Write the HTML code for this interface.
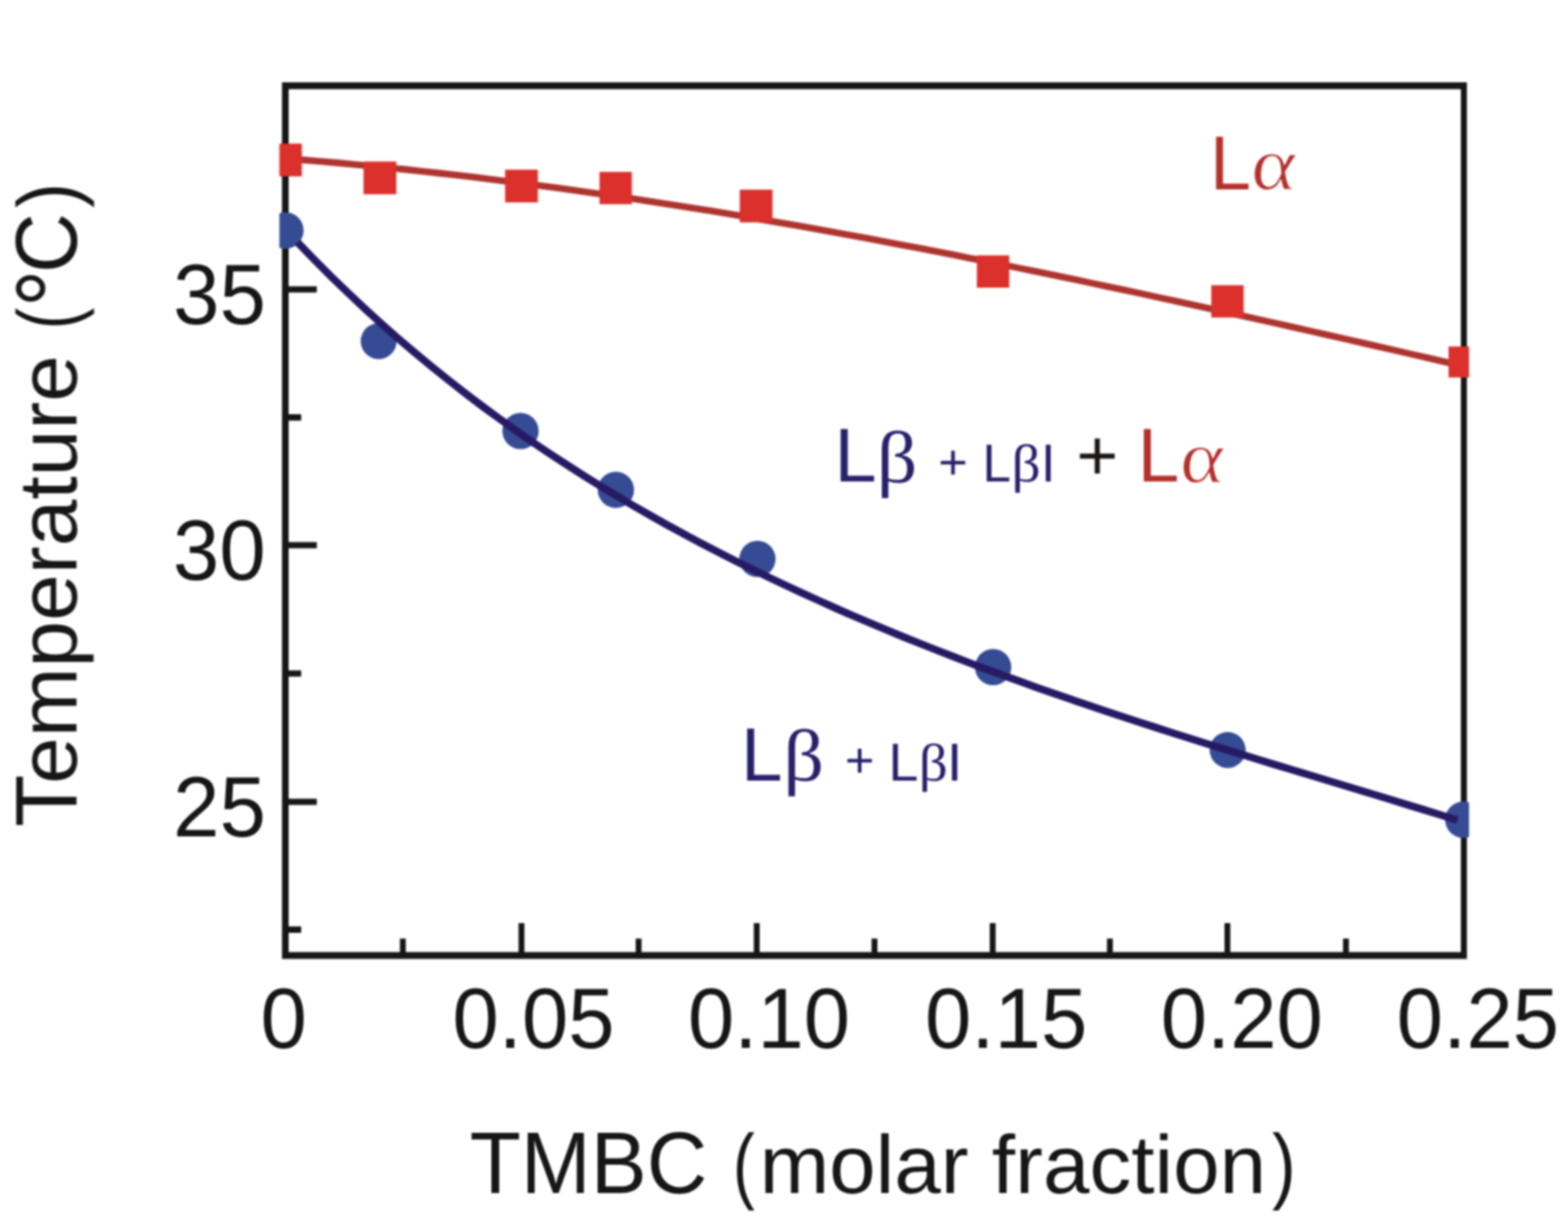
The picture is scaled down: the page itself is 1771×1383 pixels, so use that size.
<!DOCTYPE html>
<html lang="en">
<head>
<meta charset="utf-8">
<title>Phase diagram: transition temperature vs TMBC molar fraction</title>
<style>
html,body{margin:0;padding:0;background:#fff;}
body{width:1771px;height:1383px;overflow:hidden;}
svg{display:block;}
text{white-space:pre;}
</style>
</head>
<body>
<svg width="1771" height="1383" viewBox="0 0 1771 1383">
<defs>
<clipPath id="plotclip"><rect x="315.6" y="0" width="1343.6" height="1383"/></clipPath>
<filter id="soft" filterUnits="userSpaceOnUse" x="0" y="0" width="1771" height="1383" color-interpolation-filters="sRGB"><feGaussianBlur stdDeviation="0.90"/></filter>
</defs>
<rect x="0" y="0" width="1771" height="1383" fill="#ffffff"/>
<g id="figure" filter="url(#soft)">
<g id="axes" fill="none" stroke="#161616">
<path fill="#161616" stroke="none" fill-rule="evenodd" d="M318.50 92.90H1656.80V1083.60H318.50Z M326.00 100.70H1650.00V1075.70H326.00Z"/>
<path stroke-width="7.20" d="M325.00 327.00H357.80 M325.00 616.00H357.80 M325.00 906.00H357.80 M325.00 471.60H340.20 M325.00 761.00H340.20 M325.00 1050.30H340.20"/>
<path stroke-width="6.60" d="M589.00 1076.70V1043.00 M854.70 1076.70V1043.00 M1121.20 1076.70V1043.00 M1386.30 1076.70V1043.00 M455.00 1076.70V1060.40 M721.30 1076.70V1060.40 M987.70 1076.70V1060.40 M1253.60 1076.70V1060.40 M1520.20 1076.70V1060.40"/>
</g>
<g id="series-red" clip-path="url(#plotclip)">
<path d="M322.0 179.0 L341.3 180.6 L360.6 182.2 L379.9 183.9 L399.2 185.7 L418.5 187.5 L437.8 189.4 L457.1 191.4 L476.4 193.5 L495.7 195.6 L515.0 197.8 L534.3 200.1 L553.7 202.5 L573.0 204.9 L592.3 207.4 L611.6 209.9 L630.9 212.5 L650.2 215.2 L669.5 217.9 L688.8 220.7 L708.1 223.5 L727.4 226.4 L746.7 229.4 L766.0 232.4 L785.3 235.5 L804.6 238.6 L823.9 241.8 L843.2 245.1 L862.5 248.4 L881.8 251.7 L901.1 255.1 L920.4 258.5 L939.7 262.0 L959.0 265.5 L978.3 269.1 L997.7 272.7 L1017.0 276.4 L1036.3 280.1 L1055.6 283.8 L1074.9 287.6 L1094.2 291.4 L1113.5 295.2 L1132.8 299.1 L1152.1 303.1 L1171.4 307.0 L1190.7 311.0 L1210.0 315.0 L1229.3 319.1 L1248.6 323.2 L1267.9 327.3 L1287.2 331.4 L1306.5 335.6 L1325.8 339.8 L1345.1 344.0 L1364.4 348.2 L1383.7 352.5 L1403.0 356.8 L1422.3 361.1 L1441.7 365.4 L1461.0 369.8 L1480.3 374.1 L1499.6 378.5 L1518.9 382.9 L1538.2 387.3 L1557.5 391.7 L1576.8 396.1 L1596.1 400.6 L1615.4 405.0 L1634.7 409.5 L1654.0 413.9" fill="none" stroke="#ae342f" stroke-width="7.60" stroke-linejoin="round"/>
<g fill="#dc302c">
<rect x="303.90" y="162.30" width="37.00" height="37.00"/>
<rect x="410.60" y="182.50" width="37.00" height="37.00"/>
<rect x="570.50" y="191.70" width="37.00" height="37.00"/>
<rect x="677.15" y="194.25" width="36.50" height="36.50"/>
<rect x="835.50" y="214.30" width="37.00" height="37.00"/>
<rect x="1103.35" y="288.55" width="36.50" height="36.50"/>
<rect x="1368.15" y="322.25" width="36.50" height="36.50"/>
<rect x="1636.10" y="391.50" width="35.00" height="35.00"/>
</g>
</g>
<g id="series-blue" clip-path="url(#plotclip)">
<g fill="#354b94">
<circle cx="322.30" cy="260.40" r="20.60"/>
<circle cx="427.70" cy="385.40" r="20.30"/>
<circle cx="587.90" cy="487.00" r="20.50"/>
<circle cx="695.60" cy="553.40" r="20.50"/>
<circle cx="855.50" cy="631.50" r="20.50"/>
<circle cx="1121.70" cy="753.80" r="20.50"/>
<circle cx="1386.60" cy="847.40" r="20.30"/>
<circle cx="1652.80" cy="926.20" r="20.60"/>
</g>
<path d="M336.0 273.8 L355.0 293.4 L374.0 312.4 L393.0 330.8 L411.9 348.6 L430.9 365.9 L449.9 382.6 L468.9 398.8 L487.9 414.5 L506.9 429.8 L525.9 444.6 L544.8 459.0 L563.8 472.9 L582.8 486.5 L601.8 499.7 L620.8 512.5 L639.8 524.9 L658.8 537.1 L677.7 548.9 L696.7 560.4 L715.7 571.6 L734.7 582.5 L753.7 593.2 L772.7 603.6 L791.7 613.7 L810.6 623.6 L829.6 633.3 L848.6 642.7 L867.6 652.0 L886.6 661.0 L905.6 669.9 L924.6 678.5 L943.5 687.0 L962.5 695.3 L981.5 703.4 L1000.5 711.4 L1019.5 719.2 L1038.5 726.9 L1057.4 734.4 L1076.4 741.8 L1095.4 749.1 L1114.4 756.2 L1133.4 763.2 L1152.4 770.1 L1171.4 776.9 L1190.3 783.5 L1209.3 790.1 L1228.3 796.6 L1247.3 803.0 L1266.3 809.3 L1285.3 815.5 L1304.3 821.6 L1323.2 827.7 L1342.2 833.7 L1361.2 839.7 L1380.2 845.6 L1399.2 851.4 L1418.2 857.3 L1437.2 863.1 L1456.1 868.8 L1475.1 874.5 L1494.1 880.3 L1513.1 886.0 L1532.1 891.7 L1551.1 897.5 L1570.1 903.3 L1589.0 909.1 L1608.0 914.9 L1627.0 920.8 L1646.0 926.8" fill="none" stroke="#271a64" stroke-width="8.50" stroke-linejoin="round"/>
</g>
<g id="labels" text-rendering="geometricPrecision">
<text class="ytick"><tspan x="195.60" y="366.30" font-family="'Liberation Sans', sans-serif" font-size="96.60" fill="#161616" textLength="104.77" lengthAdjust="spacingAndGlyphs">35</tspan></text>
<text class="ytick"><tspan x="195.32" y="654.80" font-family="'Liberation Sans', sans-serif" font-size="96.60" fill="#161616" textLength="104.77" lengthAdjust="spacingAndGlyphs">30</tspan></text>
<text class="ytick"><tspan x="195.60" y="945.20" font-family="'Liberation Sans', sans-serif" font-size="96.60" fill="#161616" textLength="104.77" lengthAdjust="spacingAndGlyphs">25</tspan></text>
<text class="xtick"><tspan x="294.22" y="1184.00" font-family="'Liberation Sans', sans-serif" font-size="96.60" fill="#161616" textLength="52.38" lengthAdjust="spacingAndGlyphs">0</tspan></text>
<text class="xtick"><tspan x="510.92" y="1184.00" font-family="'Liberation Sans', sans-serif" font-size="96.60" fill="#161616" textLength="183.31" lengthAdjust="spacingAndGlyphs">0.05</tspan></text>
<text class="xtick"><tspan x="776.92" y="1184.00" font-family="'Liberation Sans', sans-serif" font-size="96.60" fill="#161616" textLength="183.31" lengthAdjust="spacingAndGlyphs">0.10</tspan></text>
<text class="xtick"><tspan x="1044.72" y="1184.00" font-family="'Liberation Sans', sans-serif" font-size="96.60" fill="#161616" textLength="183.31" lengthAdjust="spacingAndGlyphs">0.15</tspan></text>
<text class="xtick"><tspan x="1310.92" y="1184.00" font-family="'Liberation Sans', sans-serif" font-size="96.60" fill="#161616" textLength="183.31" lengthAdjust="spacingAndGlyphs">0.20</tspan></text>
<text class="xtick"><tspan x="1577.62" y="1184.00" font-family="'Liberation Sans', sans-serif" font-size="96.60" fill="#161616" textLength="183.31" lengthAdjust="spacingAndGlyphs">0.25</tspan></text>
<text class="xtitle"><tspan x="530.46" y="1347.60" font-family="'Liberation Sans', sans-serif" font-size="99.00" fill="#161616" textLength="268.36" lengthAdjust="spacingAndGlyphs">TMBC</tspan><tspan> </tspan><tspan x="827.68" y="1347.58" font-family="'Liberation Sans', sans-serif" font-size="94.87" fill="#161616" textLength="24.78" lengthAdjust="spacingAndGlyphs">(</tspan><tspan x="857.90" y="1347.60" font-family="'Liberation Sans', sans-serif" font-size="93.20" fill="#161616" textLength="572.16" lengthAdjust="spacingAndGlyphs">molar fraction</tspan><tspan x="1436.86" y="1347.58" font-family="'Liberation Sans', sans-serif" font-size="94.87" fill="#161616" textLength="26.84" lengthAdjust="spacingAndGlyphs">)</tspan></text>
<text class="ytitle" transform="translate(86.40 932.00) rotate(-90)"><tspan x="-2.17" y="0.00" font-family="'Liberation Sans', sans-serif" font-size="99.00" fill="#161616" textLength="58.89" lengthAdjust="spacingAndGlyphs">T</tspan><tspan x="46.26" y="0.00" font-family="'Liberation Sans', sans-serif" font-size="93.20" fill="#161616" textLength="484.37" lengthAdjust="spacingAndGlyphs">emperature</tspan><tspan> </tspan><tspan x="560.09" y="0.37" font-family="'Liberation Sans', sans-serif" font-size="95.40" fill="#161616" textLength="24.15" lengthAdjust="spacingAndGlyphs">(</tspan><tspan x="584.68" y="14.81" font-family="'Liberation Sans', sans-serif" font-size="119.49" fill="#161616" textLength="42.90" lengthAdjust="spacingAndGlyphs">°</tspan><tspan x="623.62" y="0.00" font-family="'Liberation Sans', sans-serif" font-size="99.00" fill="#161616" textLength="67.82" lengthAdjust="spacingAndGlyphs">C</tspan><tspan x="697.12" y="0.37" font-family="'Liberation Sans', sans-serif" font-size="95.40" fill="#161616" textLength="28.49" lengthAdjust="spacingAndGlyphs">)</tspan></text>
<g class="lab_alpha">
<text><tspan x="1366.68" y="213.50" font-family="'Liberation Sans', sans-serif" font-size="86.67" fill="#b4302b" textLength="46.18" lengthAdjust="spacingAndGlyphs">L</tspan></text>
<text transform="matrix(1.1271 0 0.0902 1 1415.10 213.74)" font-family="'Liberation Serif', 'DejaVu Serif', serif" font-size="85.63" font-style="italic" fill="#b4302b" stroke="#ffffff" stroke-width="1.20" stroke-linejoin="round">α</text>
</g>
<g class="lab_mid">
<text><tspan x="942.48" y="544.30" font-family="'Liberation Sans', sans-serif" font-size="86.09" fill="#29206a" textLength="47.57" lengthAdjust="spacingAndGlyphs">L</tspan><tspan x="990.39" y="544.93" font-family="'Liberation Serif', 'DejaVu Serif', serif" font-size="83.19" fill="#29206a" textLength="45.85" lengthAdjust="spacingAndGlyphs">β</tspan><tspan> </tspan><tspan x="1059.82" y="541.06" font-family="'Liberation Sans', sans-serif" font-size="55.16" fill="#29206a" textLength="33.30" lengthAdjust="spacingAndGlyphs">+</tspan><tspan> </tspan><tspan x="1109.87" y="544.30" font-family="'Liberation Sans', sans-serif" font-size="60.43" fill="#29206a" textLength="32.05" lengthAdjust="spacingAndGlyphs">L</tspan><tspan x="1142.43" y="544.02" font-family="'Liberation Serif', 'DejaVu Serif', serif" font-size="59.89" fill="#29206a" textLength="32.93" lengthAdjust="spacingAndGlyphs">β</tspan><tspan x="1175.75" y="544.30" font-family="'Liberation Sans', sans-serif" font-size="60.43" fill="#29206a" textLength="16.40" lengthAdjust="spacingAndGlyphs">I</tspan><tspan> </tspan><tspan x="1215.75" y="541.54" font-family="'Liberation Sans', sans-serif" font-size="80.41" fill="#1a1614" textLength="47.24" lengthAdjust="spacingAndGlyphs">+</tspan><tspan> </tspan><tspan x="1285.07" y="544.30" font-family="'Liberation Sans', sans-serif" font-size="86.09" fill="#b4302b" textLength="46.94" lengthAdjust="spacingAndGlyphs">L</tspan></text>
<text transform="matrix(1.1167 0 0.0893 1 1334.63 544.95)" font-family="'Liberation Serif', 'DejaVu Serif', serif" font-size="84.59" font-style="italic" fill="#b4302b" stroke="#ffffff" stroke-width="1.20" stroke-linejoin="round">α</text>
</g>
<text class="lab_low"><tspan x="837.09" y="881.60" font-family="'Liberation Sans', sans-serif" font-size="85.51" fill="#29206a" textLength="46.81" lengthAdjust="spacingAndGlyphs">L</tspan><tspan x="884.78" y="881.68" font-family="'Liberation Serif', 'DejaVu Serif', serif" font-size="82.97" fill="#29206a" textLength="45.97" lengthAdjust="spacingAndGlyphs">β</tspan><tspan> </tspan><tspan x="954.21" y="878.40" font-family="'Liberation Sans', sans-serif" font-size="55.57" fill="#29206a" textLength="33.42" lengthAdjust="spacingAndGlyphs">+</tspan><tspan> </tspan><tspan x="1003.61" y="881.60" font-family="'Liberation Sans', sans-serif" font-size="60.43" fill="#29206a" textLength="33.81" lengthAdjust="spacingAndGlyphs">L</tspan><tspan x="1037.85" y="881.67" font-family="'Liberation Serif', 'DejaVu Serif', serif" font-size="59.67" fill="#29206a" textLength="32.80" lengthAdjust="spacingAndGlyphs">β</tspan><tspan x="1069.16" y="881.60" font-family="'Liberation Sans', sans-serif" font-size="60.43" fill="#29206a" textLength="17.89" lengthAdjust="spacingAndGlyphs">I</tspan></text>
</g>
</g>
</svg>
</body>
</html>
